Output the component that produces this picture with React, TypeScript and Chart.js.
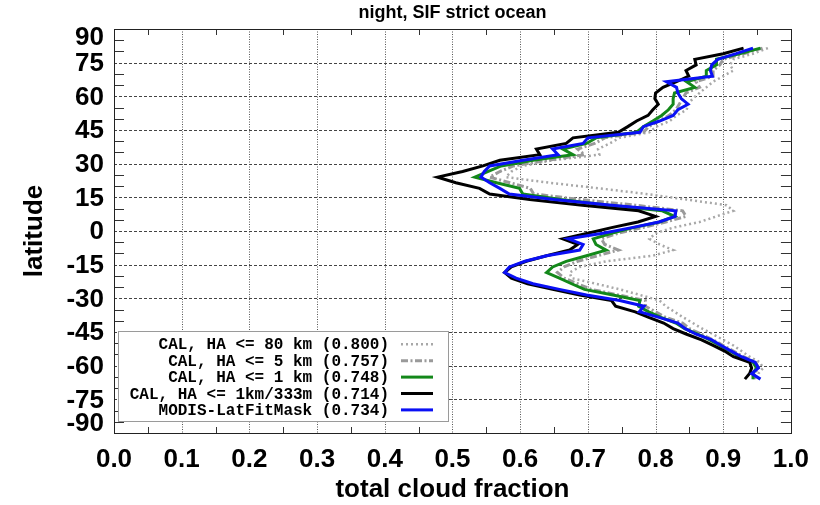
import React, { useEffect, useRef } from 'react';
import { Chart, registerables } from 'chart.js';

Chart.register(...registerables);

// ---------------- data ----------------
const latitudes = [
  81.5, 79, 76.5, 74, 71.5, 69, 66.5, 64, 61.5, 59, 56.5, 54, 51.5, 49, 46.5, 44, 41.5, 39, 36.5, 34,
  31.5, 29, 26.5, 24, 21.5, 19, 16.5, 14, 11.5, 9, 6.5, 4, 1.5, -1, -3.5, -6, -8.5, -11, -13.5, -16,
  -18.5, -21, -23.5, -26, -28.5, -31, -33.5, -36, -38.5, -41, -43.5, -46, -48.5, -51, -53.5, -56, -58.5, -61, -63.5, -66,
];

const cal80km = [
  0.966, 0.944, 0.915, 0.910, 0.915, 0.900, 0.885, 0.875, 0.865, 0.855, 0.848, 0.846, 0.831, 0.821, 0.801, 0.791, 0.747, 0.732, 0.715, 0.717,
  0.648, 0.604, 0.587, 0.579, 0.643, 0.717, 0.786, 0.846, 0.905, 0.915, 0.890, 0.865, 0.826, 0.800, 0.791, 0.806, 0.826, 0.796, 0.727, 0.688,
  0.673, 0.676, 0.712, 0.747, 0.777, 0.806, 0.815, 0.828, 0.841, 0.855, 0.869, 0.885, 0.900, 0.915, 0.927, 0.939, 0.954, 0.959, 0.952, 0.949,
];

const cal5km = [
  0.958, 0.930, 0.900, 0.895, 0.885, 0.885, 0.860, 0.865, 0.845, 0.840, 0.835, 0.830, 0.820, 0.805, 0.790, 0.782, 0.725, 0.710, 0.685, 0.695,
  0.640, 0.590, 0.570, 0.555, 0.585, 0.615, 0.620, 0.690, 0.770, 0.840, 0.845, 0.815, 0.780, 0.745, 0.720, 0.725, 0.745, 0.715, 0.685, 0.665,
  0.655, 0.665, 0.685, 0.705, 0.745, 0.785, 0.785, 0.800, 0.815, 0.840, 0.850, 0.868, 0.885, 0.900, 0.915, 0.930, 0.948, 0.952, 0.946, 0.946,
];

const cal1km = [
  0.955, 0.924, 0.890, 0.890, 0.875, 0.875, 0.846, 0.858, 0.828, 0.826, 0.826, 0.819, 0.809, 0.796, 0.782, 0.772, 0.712, 0.698, 0.663, 0.678,
  0.619, 0.572, 0.552, 0.533, 0.565, 0.599, 0.604, 0.660, 0.730, 0.810, 0.828, 0.806, 0.767, 0.735, 0.708, 0.712, 0.727, 0.698, 0.668, 0.648,
  0.639, 0.658, 0.676, 0.695, 0.737, 0.777, 0.775, 0.790, 0.808, 0.830, 0.843, 0.863, 0.880, 0.895, 0.910, 0.924, 0.944, 0.949, 0.944, 0.944,
];

const cal1km333m = [
  0.930, 0.900, 0.858, 0.860, 0.845, 0.849, 0.831, 0.811, 0.800, 0.799, 0.804, 0.796, 0.789, 0.772, 0.759, 0.745, 0.678, 0.668, 0.624, 0.629,
  0.570, 0.545, 0.515, 0.478, 0.505, 0.540, 0.555, 0.614, 0.692, 0.775, 0.800, 0.774, 0.735, 0.700, 0.663, 0.685, 0.673, 0.639, 0.609, 0.587,
  0.577, 0.587, 0.611, 0.648, 0.688, 0.735, 0.741, 0.770, 0.790, 0.812, 0.826, 0.846, 0.868, 0.885, 0.902, 0.915, 0.939, 0.942, 0.939, 0.932,
];

const modisLatFit = [
  0.944, 0.919, 0.892, 0.883, 0.881, 0.884, 0.816, 0.831, 0.833, 0.838, 0.848, 0.833, 0.826, 0.806, 0.782, 0.777, 0.700, 0.693, 0.648, 0.656,
  0.604, 0.555, 0.547, 0.542, 0.555, 0.570, 0.584, 0.650, 0.735, 0.830, 0.829, 0.805, 0.765, 0.722, 0.671, 0.693, 0.688, 0.639, 0.607, 0.584,
  0.577, 0.594, 0.619, 0.658, 0.698, 0.747, 0.783, 0.776, 0.805, 0.833, 0.844, 0.860, 0.883, 0.897, 0.912, 0.927, 0.947, 0.952, 0.942, 0.955,
];

const seriesLabels = [
  'CAL, HA <= 80 km (0.800)',
  'CAL, HA <= 5 km (0.757)',
  'CAL, HA <= 1 km (0.748)',
  'CAL, HA <= 1km/333m (0.714)',
  'MODIS-LatFitMask (0.734)',
];

const xTickValues = [0, 0.1, 0.2, 0.3, 0.4, 0.5, 0.6, 0.7, 0.8, 0.9, 1.0];
const xTickLabels = ['0.0', '0.1', '0.2', '0.3', '0.4', '0.5', '0.6', '0.7', '0.8', '0.9', '1.0'];
const xMinorValues = [0.05, 0.15, 0.25, 0.35, 0.45, 0.55, 0.65, 0.75, 0.85, 0.95];
const yTickValues = [90, 75, 60, 45, 30, 15, 0, -15, -30, -45, -60, -75, -90];
const yTickLabels = ['90', '75', '60', '45', '30', '15', '0', '-15', '-30', '-45', '-60', '-75', '-90'];
const yMinorValues = [85, 80, 70, 65, 55, 50, 40, 35, 25, 20, 10, 5, -5, -10, -20, -25, -35, -40, -50, -55, -65, -70, -80, -85];

const chartTitle = 'night, SIF strict ocean';
const xAxisTitle = 'total cloud fraction';
const yAxisTitle = 'latitude';

// ---------------- styles ----------------
const seriesValues = [cal80km, cal5km, cal1km, cal1km333m, modisLatFit];
const seriesColors = ['#a8a8a8', '#9a9a9a', '#13881a', '#000000', '#0a10f5'];
const seriesWidths = [2.5, 3, 3, 3, 3];
const seriesDashes: number[][] = [[2, 3], [7, 2.5, 2, 2.5], [], [], []];
const seriesOrder = [5, 4, 3, 2, 1];

const SANS = '"Liberation Sans", Arial, sans-serif';
const MONO = '"Liberation Mono", "Courier New", monospace';

const decorPlugin = {
  id: 'decor',
  beforeDatasetsDraw(chart: any) {
    const { ctx, chartArea: a, scales } = chart;
    const x = scales.x;
    const y = scales.y;
    ctx.save();
    ctx.lineWidth = 1;
    ctx.strokeStyle = '#555';
    ctx.setLineDash([1, 1.5]);
    for (const v of xTickValues) {
      if (v <= 0 || v >= 1) continue;
      const px = Math.round(x.getPixelForValue(v)) + 0.5;
      ctx.beginPath();
      ctx.moveTo(px, a.top);
      ctx.lineTo(px, a.bottom);
      ctx.stroke();
    }
    ctx.strokeStyle = '#444';
    ctx.setLineDash([3, 2]);
    for (const v of yTickValues) {
      if (v >= 90 || v <= -90) continue;
      const py = Math.round(y.getPixelForValue(v)) + 0.5;
      ctx.beginPath();
      ctx.moveTo(a.left, py);
      ctx.lineTo(a.right, py);
      ctx.stroke();
    }
    ctx.restore();
  },
  afterDatasetsDraw(chart: any) {
    const { ctx, chartArea: a, scales } = chart;
    const x = scales.x;
    const y = scales.y;
    ctx.save();
    ctx.setLineDash([]);
    ctx.strokeStyle = '#333';
    ctx.lineWidth = 1;
    for (const v of yMinorValues) {
      const py = Math.round(y.getPixelForValue(v)) + 0.5;
      ctx.beginPath();
      ctx.moveTo(a.left, py);
      ctx.lineTo(a.left + 10, py);
      ctx.moveTo(a.right, py);
      ctx.lineTo(a.right - 10, py);
      ctx.stroke();
    }
    for (const v of xMinorValues) {
      const px = Math.round(x.getPixelForValue(v)) + 0.5;
      ctx.beginPath();
      ctx.moveTo(px, a.top);
      ctx.lineTo(px, a.top + 6);
      ctx.moveTo(px, a.bottom);
      ctx.lineTo(px, a.bottom - 6);
      ctx.stroke();
    }
    ctx.strokeStyle = '#222';
    ctx.strokeRect(Math.round(a.left) + 0.5, Math.round(a.top) + 0.5, Math.round(a.right - a.left), Math.round(a.bottom - a.top));

    // legend box
    const bx = 118.5, by = 331.5, bw = 330, bh = 90;
    ctx.fillStyle = '#ffffff';
    ctx.fillRect(bx, by, bw, bh);
    ctx.strokeStyle = '#9a9a9a';
    ctx.lineWidth = 1;
    ctx.strokeRect(bx, by, bw, bh);
    ctx.font = 'bold 16px ' + MONO;
    ctx.textAlign = 'right';
    ctx.textBaseline = 'middle';
    seriesLabels.forEach((label, i) => {
      const ry = 344.3 + i * 16.4;
      ctx.fillStyle = '#000';
      ctx.fillText(label, 389, ry + 1);
      ctx.beginPath();
      ctx.strokeStyle = seriesColors[i];
      ctx.lineWidth = seriesWidths[i];
      ctx.setLineDash(seriesDashes[i]);
      ctx.moveTo(401, ry);
      ctx.lineTo(433, ry);
      ctx.stroke();
    });
    ctx.restore();
  },
  afterDraw(chart: any) {
    const { ctx, chartArea: a, scales } = chart;
    const y = scales.y;
    ctx.save();
    ctx.fillStyle = '#000';
    ctx.font = 'bold 26px ' + SANS;
    ctx.textAlign = 'right';
    ctx.textBaseline = 'middle';
    yTickValues.forEach((v, i) => {
      let py = y.getPixelForValue(v);
      py = Math.min(Math.max(py, a.top + 7.5), a.bottom - 10.3);
      ctx.fillText(yTickLabels[i], 104, py + 1);
    });
    ctx.save();
    ctx.translate(35, (a.top + a.bottom) / 2);
    ctx.rotate(-Math.PI / 2);
    ctx.textAlign = 'center';
    ctx.textBaseline = 'middle';
    ctx.font = 'bold 26px ' + SANS;
    ctx.fillText(yAxisTitle, 0, 0);
    ctx.restore();
    ctx.font = 'bold 18px ' + SANS;
    ctx.textAlign = 'center';
    ctx.textBaseline = 'middle';
    ctx.fillText(chartTitle, (a.left + a.right) / 2, 13);
    ctx.restore();
  },
};

export default function App() {
  const canvasRef = useRef<HTMLCanvasElement | null>(null);

  useEffect(() => {
    if (!canvasRef.current) return;
    const datasets = seriesValues.map((vals, i) => ({
      label: seriesLabels[i],
      data: latitudes.map((lat, k) => ({ x: vals[k], y: lat })),
      showLine: true,
      borderColor: seriesColors[i],
      backgroundColor: seriesColors[i],
      borderWidth: seriesWidths[i],
      borderDash: seriesDashes[i],
      pointRadius: 0,
      tension: 0,
      order: seriesOrder[i],
    }));

    const chart = new Chart(canvasRef.current, {
      type: 'scatter',
      data: { datasets },
      plugins: [decorPlugin],
      options: {
        animation: false,
        responsive: true,
        maintainAspectRatio: false,
        devicePixelRatio: 1,
        events: [],
        layout: { padding: { top: 29, right: 29, left: 0, bottom: 0 } },
        plugins: {
          legend: { display: false },
          tooltip: { enabled: false },
          title: { display: false },
        },
        scales: {
          x: {
            type: 'linear',
            min: 0,
            max: 1,
            grid: { display: false, drawTicks: false },
            border: { display: false },
            afterBuildTicks: (scale: any) => {
              scale.ticks = xTickValues.map((v) => ({ value: v }));
            },
            afterFit: (scale: any) => {
              scale.height = 72;
            },
            ticks: {
              autoSkip: false,
              maxRotation: 0,
              padding: 11,
              color: '#000',
              font: { family: SANS, size: 26, weight: 'bold' },
              callback: (_v: any, i: number) => xTickLabels[i],
            },
            title: {
              display: true,
              text: xAxisTitle,
              color: '#000',
              font: { family: SANS, size: 26, weight: 'bold', lineHeight: 1.2 },
              padding: { top: 0, bottom: 0 },
            },
          },
          y: {
            type: 'linear',
            min: -90,
            max: 90,
            grid: { display: false, drawTicks: false },
            border: { display: false },
            ticks: { display: false },
            afterFit: (scale: any) => {
              scale.width = 114;
            },
          },
        },
      } as any,
    });
    return () => chart.destroy();
  }, []);

  return (
    <div style={{ position: 'fixed', left: 0, top: 0, width: 820, height: 505, background: '#fff' }}>
      <canvas ref={canvasRef} />
    </div>
  );
}
